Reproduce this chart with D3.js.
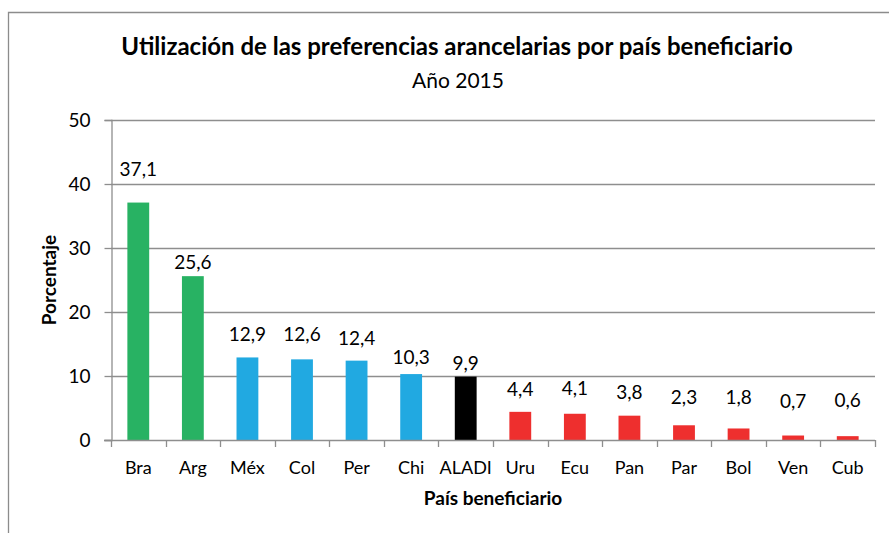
<!DOCTYPE html>
<html>
<head>
<meta charset="utf-8">
<script src="https://cdn.jsdelivr.net/npm/d3@7"></script>
<style>
  html, body { margin: 0; padding: 0; background: #fff; }
  svg { display: block; font-family: Lato, "Open Sans", sans-serif; }
</style>
</head>
<body>
<svg id="chart" width="889" height="533"></svg>
<script>
// ---- data ----
const categories = ["Bra", "Arg", "Méx", "Col", "Per", "Chi", "ALADI", "Uru", "Ecu", "Pan", "Par", "Bol", "Ven", "Cub"];
const values = [37.1, 25.6, 12.9, 12.6, 12.4, 10.3, 9.9, 4.4, 4.1, 3.8, 2.3, 1.8, 0.7, 0.6];
const groups = ["alto", "alto", "medio", "medio", "medio", "medio", "total", "bajo", "bajo", "bajo", "bajo", "bajo", "bajo", "bajo"];
const yTicks = [0, 10, 20, 30, 40, 50];
const title = "Utilización de las preferencias arancelarias por país beneficiario";
const subtitle = "Año 2015";
const yTitle = "Porcentaje";
const xTitle = "País beneficiario";

// ---- layout (label lift above bar top, px) ----
const labelLift = [27, 7, 16, 18, 16, 10, 7, 16, 19, 17, 21, 24, 28, 29];

const svg = d3.select("#chart");
const W = 889, H = 533;
const plot = { left: 111, right: 875, top: 120, bottom: 440 };

const color = d3.scaleOrdinal()
  .domain(["alto", "medio", "total", "bajo"])
  .range(["#28B263", "#21A9E1", "#000000", "#EE2F2E"]);

const x = d3.scaleBand().domain(categories)
  .range([plot.left, plot.right]).paddingInner(0.6).paddingOuter(0.3);
const y = d3.scaleLinear().domain([0, 50]).range([plot.bottom, plot.top]);

// outer border (cropped chart frame)
svg.append("path")
  .attr("d", `M8.5,${H} L8.5,12.5 L${W},12.5`)
  .attr("fill", "none").attr("stroke", "#8c8c8c").attr("stroke-width", 1.3);

// gridlines
svg.append("g").selectAll("line").data(yTicks.filter(t => t > 0)).join("line")
  .attr("x1", plot.left).attr("x2", plot.right)
  .attr("y1", d => Math.round(y(d)) + 0.5).attr("y2", d => Math.round(y(d)) + 0.5)
  .attr("stroke", "#8e8e8e").attr("stroke-width", 1.3);

// y axis
const yAxis = d3.axisLeft(y).tickValues(yTicks).tickSize(7).tickPadding(14);
const gy = svg.append("g").attr("transform", `translate(${plot.left + 0.5},0)`).call(yAxis);
gy.select(".domain").attr("stroke", "#8e8e8e").attr("stroke-width", 1.3);
gy.selectAll(".tick line").attr("stroke", "#8e8e8e").attr("stroke-width", 1.3);
gy.selectAll(".tick text").attr("font-size", 19).attr("fill", "#000").attr("font-family", "Lato");

// bars
svg.append("g").selectAll("rect").data(values).join("rect")
  .attr("x", (d, i) => x(categories[i]))
  .attr("width", x.bandwidth())
  .attr("y", d => y(d))
  .attr("height", d => y(0) - y(d))
  .attr("fill", (d, i) => color(groups[i]));

// x axis line + boundary ticks
const step = x.step();
const boundaries = d3.range(categories.length + 1).map(i => plot.left + i * step);
svg.append("line")
  .attr("x1", plot.left - 7).attr("x2", plot.right)
  .attr("y1", plot.bottom + 0.5).attr("y2", plot.bottom + 0.5)
  .attr("stroke", "#8e8e8e").attr("stroke-width", 1.3);
svg.append("g").selectAll("line").data(boundaries).join("line")
  .attr("x1", d => Math.round(d) + 0.5).attr("x2", d => Math.round(d) + 0.5)
  .attr("y1", plot.bottom).attr("y2", plot.bottom + 7)
  .attr("stroke", "#8e8e8e").attr("stroke-width", 1.3);

// category labels
svg.append("g").selectAll("text").data(categories).join("text")
  .attr("x", d => x(d) + x.bandwidth() / 2)
  .attr("y", 474)
  .attr("text-anchor", "middle")
  .attr("font-size", 18)
  .attr("fill", "#000")
  .text(d => d);

// value labels
svg.append("g").selectAll("text").data(values).join("text")
  .attr("x", (d, i) => x(categories[i]) + x.bandwidth() / 2)
  .attr("y", (d, i) => y(d) - labelLift[i])
  .attr("text-anchor", "middle")
  .attr("font-size", 19)
  .attr("fill", "#000")
  .text(d => d3.format(".1f")(d).replace(".", ","));

// titles
svg.append("text").attr("x", 457).attr("y", 55).attr("text-anchor", "middle")
  .attr("font-size", 24).attr("font-weight", "bold").attr("fill", "#000").text(title);
svg.append("text").attr("x", 458).attr("y", 88).attr("text-anchor", "middle")
  .attr("font-size", 21).attr("fill", "#000").text(subtitle);

svg.append("text").attr("transform", `translate(56,280) rotate(-90)`)
  .attr("text-anchor", "middle").attr("font-size", 19).attr("font-weight", "bold")
  .attr("fill", "#000").text(yTitle);
svg.append("text").attr("x", (plot.left + plot.right) / 2).attr("y", 505)
  .attr("text-anchor", "middle").attr("font-size", 19).attr("font-weight", "bold")
  .attr("fill", "#000").text(xTitle);
</script>
</body>
</html>
